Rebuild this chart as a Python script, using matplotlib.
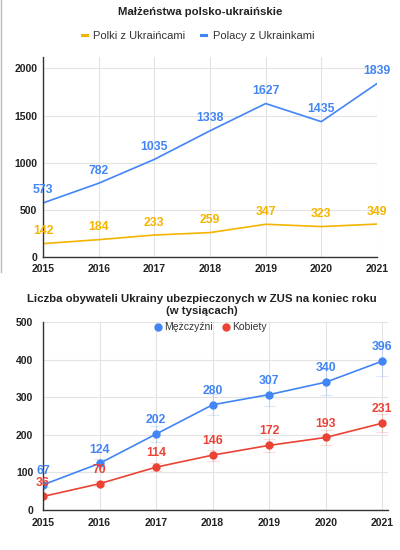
import numpy as np
import matplotlib
matplotlib.use("Agg")
import matplotlib.pyplot as plt
from matplotlib.lines import Line2D

plt.rcParams['font.family'] = ['Liberation Sans', 'DejaVu Sans']

# ==================== dane ====================
years = [2015, 2016, 2017, 2018, 2019, 2020, 2021]

polki_z_ukraincami = [142, 184, 233, 259, 347, 323, 349]
polacy_z_ukrainkami = [573, 782, 1035, 1338, 1627, 1435, 1839]

mezczyzni = [67, 124, 202, 280, 307, 340, 396]
kobiety = [36, 70, 114, 146, 172, 193, 231]

top_yticks = [0, 500, 1000, 1500, 2000]
bottom_yticks = [0, 100, 200, 300, 400, 500]

BLUE = "#4285F4"
YELLOW = "#F4B400"
RED = "#EA4335"
GRID = "#e3e3e3"
TXT = "#222222"


def style_axes(ax, yticks, ylim, xlim, ypad, xpad):
    ax.set_xlim(*xlim)
    ax.set_ylim(*ylim)
    ax.set_xticks(years)
    ax.set_yticks(yticks)
    ax.grid(True, color=GRID, linewidth=0.8)
    ax.set_axisbelow(True)
    for s in ["top", "right"]:
        ax.spines[s].set_visible(False)
    for s in ["left", "bottom"]:
        ax.spines[s].set_color("#333333")
        ax.spines[s].set_linewidth(1.0)
    ax.tick_params(axis="y", length=0, pad=ypad, labelcolor=TXT)
    ax.tick_params(axis="x", length=0, pad=xpad, labelcolor=TXT)
    for lab in ax.get_xticklabels() + ax.get_yticklabels():
        lab.set_fontweight("bold")
        lab.set_fontsize(7.5)


def label_points(ax, xs, ys, color, dy, size):
    for x, y in zip(xs, ys):
        ax.annotate(str(y), (x, y), xytext=(0, dy), textcoords="offset points",
                    ha="center", va="center", color=color, fontsize=size,
                    fontweight="bold")


fig = plt.figure(figsize=(4, 5.5), dpi=100)

# ---------- wykres 1 ----------
ax1 = fig.add_axes([0.1075, 0.5327, 0.835, 0.3636])
ax1.plot(years, polki_z_ukraincami, color=YELLOW, linewidth=1.2)
ax1.plot(years, polacy_z_ukrainkami, color=BLUE, linewidth=1.2)
style_axes(ax1, top_yticks, (0, 2120), (2015, 2021), 4, 5)
label_points(ax1, years, polki_z_ukraincami, YELLOW, 9, 8.8)
label_points(ax1, years, polacy_z_ukrainkami, BLUE, 9, 8.8)

fig.text(0.5, 0.978, "Małżeństwa polsko-ukraińskie", ha="center", va="center",
         fontsize=8.2, fontweight="bold", color=TXT)
h1 = [Line2D([], [], color=YELLOW, linewidth=2.2),
      Line2D([], [], color=BLUE, linewidth=2.2)]
fig.legend(h1, ["Polki z Ukraińcami", "Polacy z Ukrainkami"], loc="center",
           bbox_to_anchor=(0.495, 0.935), ncol=2, frameon=False, fontsize=8,
           handlelength=0.45, handletextpad=0.6, columnspacing=1.4,
           labelcolor="#333333")

# ---------- wykres 2 ----------
ax2 = fig.add_axes([0.1075, 0.0727, 0.8625, 0.3418])
for vals, c in [(mezczyzni, BLUE), (kobiety, RED)]:
    err = [v * 0.1 for v in vals]
    ax2.errorbar(years, vals, yerr=err, fmt="none", ecolor=c, alpha=0.18,
                 elinewidth=0.8, capsize=4, capthick=0.8)
    ax2.plot(years, vals, color=c, linewidth=1.2, marker="o", markersize=5)
style_axes(ax2, bottom_yticks, (0, 500), (2015, 2021.1), 7, 6)
ax2.axvline(2021.1, color=GRID, linewidth=0.8)
label_points(ax2, years, mezczyzni, BLUE, 10, 8.8)
label_points(ax2, years, kobiety, RED, 10, 8.8)

fig.text(0.505, 0.457, "Liczba obywateli Ukrainy ubezpieczonych w ZUS na koniec roku",
         ha="center", va="center", fontsize=8.2, fontweight="bold", color=TXT)
fig.text(0.505, 0.434, "(w tysiącach)", ha="center", va="center",
         fontsize=8.2, fontweight="bold", color=TXT)
h2 = [Line2D([], [], color=BLUE, marker="o", linestyle="none", markersize=5),
      Line2D([], [], color=RED, marker="o", linestyle="none", markersize=5)]
fig.legend(h2, ["Mężczyźni", "Kobiety"], loc="center",
           bbox_to_anchor=(0.527, 0.405), ncol=2, frameon=False, fontsize=7.5,
           handlelength=0.6, handletextpad=0.3, columnspacing=1.0,
           labelcolor="#333333")

# szara ramka z lewej strony górnego wykresu
fig.add_artist(Line2D([0.002, 0.002], [0.505, 1.0], color="#bbbbbb",
                      linewidth=1.0, transform=fig.transFigure))

fig.savefig("out.png", dpi=100)
